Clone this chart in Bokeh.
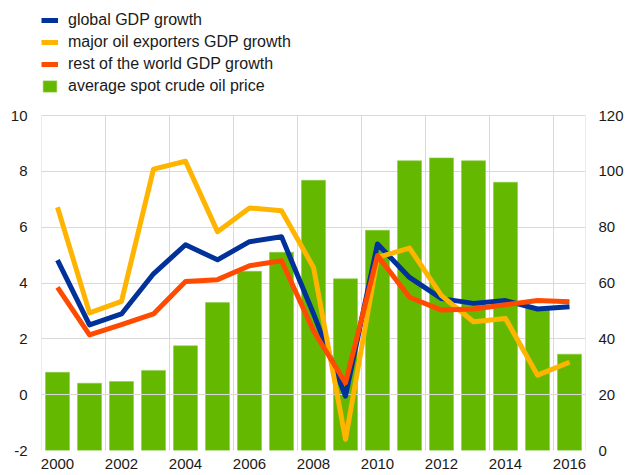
from bokeh.plotting import figure
from bokeh.models import (Range1d, LinearAxis, FixedTicker, Legend, LegendItem,
                          ColumnDataSource)
from bokeh.embed import file_html
from bokeh.resources import INLINE

# ---- data ----
years = [2000, 2001, 2002, 2003, 2004, 2005, 2006, 2007, 2008,
         2009, 2010, 2011, 2012, 2013, 2014, 2015, 2016]
global_gdp = [4.82, 2.50, 2.89, 4.33, 5.37, 4.83, 5.48, 5.66, 2.90,
              -0.05, 5.40, 4.20, 3.44, 3.27, 3.37, 3.07, 3.15]
oil_exporters_gdp = [6.71, 2.93, 3.34, 8.08, 8.36, 5.84, 6.69, 6.59, 4.56,
                     -1.60, 4.92, 5.25, 3.55, 2.61, 2.73, 0.70, 1.16]
rest_world_gdp = [3.84, 2.14, 2.51, 2.89, 4.05, 4.12, 4.62, 4.80, 2.29,
                  0.42, 4.98, 3.49, 3.03, 3.07, 3.22, 3.37, 3.33]
oil_price = [28.0, 24.1, 24.7, 28.7, 37.5, 53.0, 64.2, 71.0, 96.8,
             61.5, 78.9, 103.8, 104.8, 103.8, 96.1, 51.0, 34.5]

x_tick_labels = [2000, 2002, 2004, 2006, 2008, 2010, 2012, 2014, 2016]
left_ticks = [-2, 0, 2, 4, 6, 8, 10]
right_ticks = [0, 20, 40, 60, 80, 100, 120]

series_names = ["global GDP growth", "major oil exporters GDP growth",
                "rest of the world GDP growth", "average spot crude oil price"]

BLUE = "#003299"
YELLOW = "#FFB400"
ORANGE = "#FF4B00"
GREEN = "#65B800"
GRID = "#d9d9d9"
TEXT = "#1a1a1a"
FONT = "Liberation Sans"

# ---- layout (pixels) ----
PLOT_H = 335          # height of the gridded area
LEGEND_SPACE = 115    # room above the gridded area, inside the frame, for the legend
FRAME_W = 544

left_span = left_ticks[-1] - left_ticks[0]
right_span = right_ticks[-1] - right_ticks[0]
left_top = left_ticks[-1] + LEGEND_SPACE * left_span / PLOT_H
right_top = right_ticks[-1] + LEGEND_SPACE * right_span / PLOT_H

src = ColumnDataSource(dict(x=years, g=global_gdp, o=oil_exporters_gdp,
                            r=rest_world_gdp, p=oil_price))

p = figure(frame_width=FRAME_W, frame_height=PLOT_H + LEGEND_SPACE,
           output_backend="svg", toolbar_location=None,
           x_range=Range1d(years[0] - 0.5, years[-1] + 0.5),
           y_range=Range1d(left_ticks[0], left_top),
           min_border_left=41, min_border_right=42,
           min_border_top=0, min_border_bottom=25)
p.title.visible = False
p.extra_y_ranges = {"oil": Range1d(right_ticks[0], right_top)}
p.outline_line_color = None
p.background_fill_color = "white"
p.border_fill_color = "white"


def style_axis(ax, standoff):
    ax.axis_line_color = None
    ax.major_tick_line_color = None
    ax.minor_tick_line_color = None
    ax.major_tick_out = 0
    ax.major_tick_in = 0
    ax.minor_tick_out = 0
    ax.minor_tick_in = 0
    ax.major_label_text_font = FONT
    ax.major_label_text_font_size = "15px"
    ax.major_label_text_color = TEXT
    ax.major_label_standoff = standoff


style_axis(p.xaxis[0], 8)
style_axis(p.yaxis[0], 14)
p.xaxis.ticker = FixedTicker(ticks=x_tick_labels)
p.yaxis.ticker = FixedTicker(ticks=left_ticks)
p.yaxis.major_label_overrides = {t: str(t) for t in left_ticks}

ry = LinearAxis(y_range_name="oil", ticker=FixedTicker(ticks=right_ticks))
style_axis(ry, 13)
p.add_layout(ry, "right")

# grids: horizontal from the axis ticks, vertical every two categories
p.xgrid.visible = False
p.ygrid.ticker = FixedTicker(ticks=left_ticks)
p.ygrid.grid_line_color = GRID
vx = [y - 0.5 for y in years[::2]] + [years[-1] + 0.5]
p.segment(x0=vx, x1=vx, y0=[left_ticks[0]] * len(vx), y1=[left_ticks[-1]] * len(vx),
          line_color=GRID, line_width=1, level="underlay")

bars = p.vbar(x="x", top="p", width=0.75, bottom=0, y_range_name="oil",
              source=src, fill_color=GREEN, line_color="#8ccc4a", line_width=0.6)
p.hspan(y=[0], line_color=GRID, line_width=1)

l1 = p.line("x", "g", source=src, line_color=BLUE, line_width=5, line_join="round")
l2 = p.line("x", "o", source=src, line_color=YELLOW, line_width=5, line_join="round")
l3 = p.line("x", "r", source=src, line_color=ORANGE, line_width=5, line_join="round")

legend = Legend(items=[LegendItem(label=series_names[0], renderers=[l1]),
                       LegendItem(label=series_names[1], renderers=[l2]),
                       LegendItem(label=series_names[2], renderers=[l3]),
                       LegendItem(label=series_names[3], renderers=[bars])],
                location=(0, PLOT_H + 20), orientation="vertical",
                glyph_width=17, glyph_height=14, label_height=14,
                label_standoff=10, spacing=4, padding=0, margin=0,
                border_line_color=None, background_fill_alpha=0,
                label_text_font=FONT, label_text_font_size="16px",
                label_text_color=TEXT)
p.add_layout(legend, "center")

open("out.html", "w").write(file_html(p, INLINE))
